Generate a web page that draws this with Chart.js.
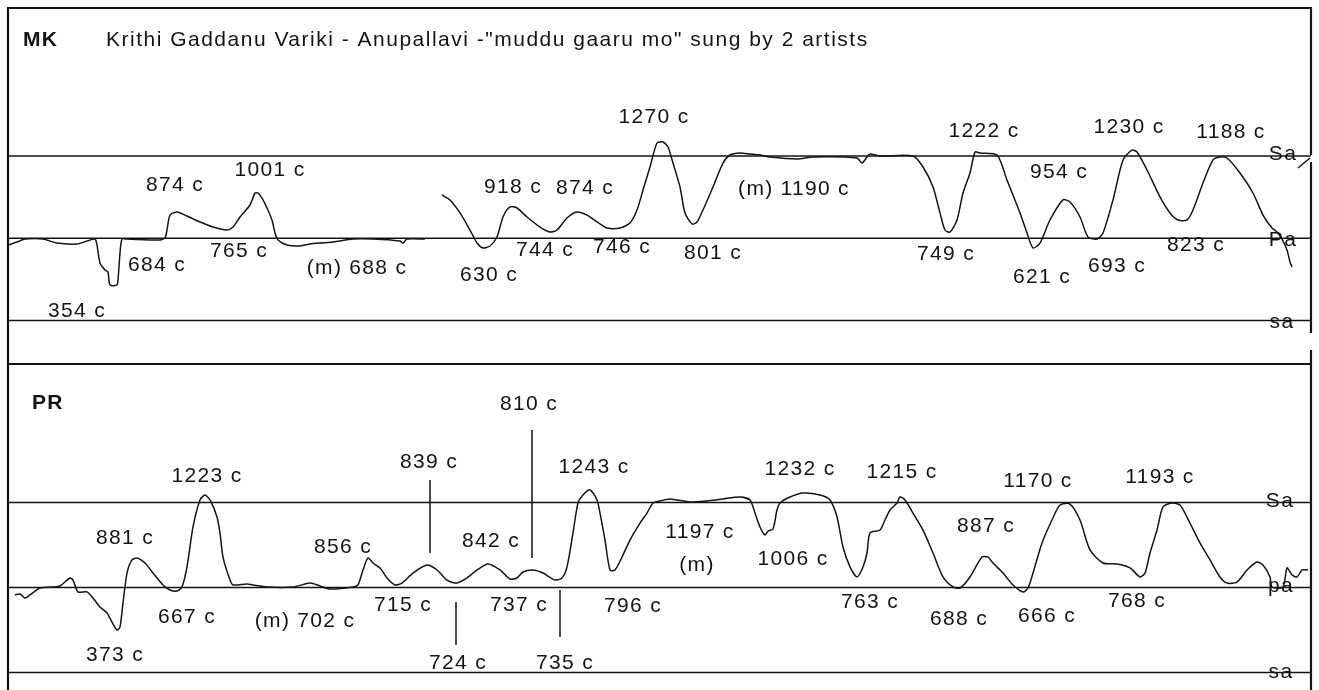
<!DOCTYPE html>
<html><head><meta charset="utf-8">
<script src="https://cdn.jsdelivr.net/npm/chart.js@4.4.1/dist/chart.umd.min.js"></script>
<style>
html,body{margin:0;padding:0;background:#fff;width:1319px;height:690px;overflow:hidden}
canvas{position:absolute;left:0}
#mk{top:0}
#pr{top:345px}
</style></head><body>
<canvas id="mk" width="1319" height="345"></canvas>
<canvas id="pr" width="1319" height="345"></canvas>
<script>
// ---------- DATA ----------
// pitch = frequency ratio to the tonic (sa = 1, Pa = 1.5, Sa = 2); time in frames
const titleText = 'Krithi Gaddanu Variki - Anupallavi -"muddu gaaru mo" sung by 2 artists';
const panelNames = ['MK', 'PR'];
const mkSwaras = [['sa', 1], ['Pa', 1.5], ['Sa', 2]];
const prSwaras = [['sa', 1], ['pa', 1.5], ['Sa', 2]];

const mkContour = [
 [0,1.459],[9,1.477],[17,1.495],[35,1.495],[49,1.471],[69,1.465],[79,1.483],[87,1.495],[89,1.459],[92,1.350],
 [97,1.307],[100,1.295],[102,1.216],[109,1.216],[110,1.246],[112,1.410],[114,1.495],[119,1.495],[152,1.489],[157,1.502],
 [159,1.550],[162,1.641],[169,1.660],[179,1.635],[192,1.599],[205,1.568],[219,1.550],[225,1.568],[232,1.629],[242,1.702],
 [247,1.775],[250,1.775],[255,1.733],[259,1.684],[264,1.611],[267,1.532],[270,1.489],[279,1.459],[292,1.453],[302,1.465],
 [312,1.471],[325,1.477],[345,1.495],[365,1.495],[392,1.483],[395,1.471],[399,1.495],[417,1.495],[425,null],
 [434,1.763],[442,1.733],[452,1.654],[462,1.550],[469,1.471],[475,1.441],[482,1.453],[489,1.508],[495,1.629],[502,1.690],
 [509,1.684],[519,1.629],[532,1.568],[542,1.538],[549,1.550],[559,1.623],[569,1.660],[579,1.641],[589,1.599],[599,1.562],
 [612,1.562],[622,1.593],[629,1.672],[635,1.793],[642,1.933],[649,2.079],[655,2.085],[660,2.055],[665,1.957],[672,1.812],
 [677,1.654],[684,1.587],[689,1.599],[695,1.672],[705,1.812],[715,1.957],[722,2.006],[732,2.018],[742,2.012],[752,2.006],
 [762,1.994],[789,1.982],[805,1.994],[849,1.988],[854,1.957],[859,1.994],[862,2.012],[872,2.000],[905,2.000],[915,1.933],
 [925,1.812],[932,1.654],[937,1.550],[942,1.538],[949,1.611],[955,1.775],[962,1.897],[967,2.024],[972,2.018],[989,2.006],
 [999,1.854],[1012,1.654],[1019,1.532],[1025,1.441],[1032,1.471],[1042,1.611],[1055,1.733],[1062,1.720],[1072,1.629],[1080,1.508],
 [1089,1.495],[1095,1.532],[1105,1.733],[1115,1.976],[1124,2.036],[1129,2.024],[1139,1.915],[1152,1.751],[1162,1.654],[1170,1.611],
 [1179,1.611],[1185,1.672],[1195,1.836],[1205,1.976],[1212,1.994],[1219,1.988],[1232,1.897],[1245,1.775],[1255,1.641],[1264,1.562],
 [1269,1.538],[1274,1.495],[1279,1.429],[1282,1.356],[1284,1.325],[1287,null],[1290,1.927],[1302,1.988]
];

const prContour = [
 [7,1.456],[12,1.462],[17,1.438],[22,1.456],[32,1.497],[45,1.503],[52,1.509],[62,1.556],[65,1.544],[70,1.474],
 [79,1.474],[85,1.438],[92,1.385],[99,1.350],[104,1.297],[109,1.250],[112,1.268],[115,1.409],[119,1.585],[124,1.662],
 [129,1.674],[137,1.644],[145,1.585],[155,1.515],[162,1.485],[169,1.479],[174,1.503],[179,1.621],[185,1.856],[192,2.015],
 [197,2.044],[202,2.015],[209,1.915],[212,1.821],[215,1.679],[222,1.544],[225,1.515],[239,1.521],[245,1.515],[259,1.503],
 [285,1.503],[302,1.526],[312,1.509],[322,1.491],[345,1.503],[350,1.515],[355,1.603],[360,1.674],[365,1.644],[372,1.615],
 [379,1.556],[387,1.515],[394,1.526],[405,1.585],[419,1.632],[429,1.603],[439,1.544],[449,1.526],[459,1.556],[469,1.603],
 [480,1.638],[492,1.603],[502,1.550],[509,1.556],[515,1.591],[525,1.603],[535,1.585],[547,1.544],[554,1.556],[559,1.621],
 [565,1.821],[570,1.997],[575,2.044],[582,2.074],[589,2.015],[592,1.938],[597,1.779],[602,1.603],[607,1.603],[614,1.679],
 [622,1.779],[632,1.879],[639,1.938],[645,1.997],[652,2.009],[662,2.021],[682,2.003],[699,2.009],[715,2.021],[732,2.032],
 [742,2.015],[747,1.938],[752,1.856],[757,1.809],[760,1.832],[765,1.844],[769,1.956],[772,1.997],[782,2.032],[795,2.056],
 [812,2.044],[822,2.015],[829,1.915],[835,1.738],[842,1.621],[849,1.562],[855,1.621],[859,1.703],[862,1.821],[872,1.838],
 [877,1.897],[882,1.956],[889,1.997],[892,2.032],[897,2.015],[905,1.938],[915,1.838],[925,1.703],[935,1.562],[945,1.503],
 [952,1.497],[962,1.562],[974,1.679],[980,1.679],[985,1.644],[995,1.585],[1005,1.515],[1015,1.474],[1020,1.497],[1025,1.585],
 [1034,1.762],[1044,1.897],[1052,1.985],[1062,1.991],[1072,1.897],[1082,1.721],[1095,1.644],[1109,1.638],[1122,1.615],[1132,1.562],
 [1137,1.585],[1142,1.703],[1149,1.838],[1155,1.974],[1164,1.997],[1172,1.985],[1182,1.879],[1192,1.762],[1202,1.662],[1212,1.562],
 [1219,1.526],[1229,1.532],[1239,1.603],[1249,1.650],[1255,1.632],[1262,1.562],[1264,1.503],[1275,1.503],[1279,1.615],[1284,1.574],
 [1289,1.562],[1294,1.603],[1300,1.603]
];

// annotations: [text, time, ratio]
const mkLabels = [
 ['874 c',167,1.824],['1001 c',262,1.915],['684 c',149,1.337],['765 c',231,1.422],['(m) 688 c',349,1.319],
 ['354 c',69,1.058],['1270 c',646,2.237],['918 c',505,1.812],['874 c',577,1.805],['(m) 1190 c',786,1.799],
 ['744 c',537,1.429],['746 c',614,1.447],['801 c',705,1.410],['630 c',481,1.277],['1222 c',976,2.152],
 ['1230 c',1121,2.176],['1188 c',1223,2.146],['954 c',1051,1.903],['749 c',938,1.404],['621 c',1034,1.264],
 ['693 c',1109,1.331],['823 c',1188,1.459]
];
const prLabels = [
 ['1223 c',199,2.156],['881 c',117,1.791],['856 c',335,1.738],['839 c',421,2.238],['667 c',179,1.326],
 ['373 c',107,1.103],['(m) 702 c',297,1.303],['715 c',395,1.397],['810 c',521,2.579],['842 c',483,1.774],
 ['1243 c',586,2.209],['737 c',511,1.397],['724 c',450,1.056],['735 c',557,1.056],['796 c',625,1.391],
 ['1197 c',692,1.826],['(m)',689,1.632],['1232 c',792,2.197],['1006 c',785,1.668],['763 c',862,1.415],
 ['1215 c',894,2.179],['887 c',978,1.862],['688 c',951,1.315],['1170 c',1030,2.126],['666 c',1039,1.332],
 ['1193 c',1152,2.150],['768 c',1129,1.421]
];
// swara name positions at the right end: [text, time, ratio]
const mkSwaraLabels = [['Sa',1275,2.012],['Pa',1275,1.486],['sa',1274,0.992]];
const prSwaraLabels = [['Sa',1272,2.009],['pa',1273,1.507],['sa',1273,1.001]];
// leader marks (PR): [time, ratioFrom, ratioTo]
const prLeaders = [[422,2.132,1.703],[524,2.426,1.674],[448,1.415,1.162],[552,1.485,1.209]];

// ---------- RENDER ----------
const INK = '#141414';
const FONT = '"Liberation Sans", Arial, sans-serif';

function frameAndText(cfg) {
  return {
    id: 'frameText',
    afterDraw(chart) {
      const ctx = chart.ctx, xs = chart.scales.x, ys = chart.scales.y;
      ctx.save();
      ctx.strokeStyle = INK; ctx.lineWidth = 2.2; ctx.lineCap = 'butt';
      for (const s of cfg.frame) { ctx.beginPath(); ctx.moveTo(s[0], s[1]); ctx.lineTo(s[2], s[3]); ctx.stroke(); }
      ctx.fillStyle = INK;
      ctx.textBaseline = 'middle';
      ctx.letterSpacing = '1.2px';
      ctx.font = 'bold 21px ' + FONT; ctx.textAlign = 'left';
      ctx.fillText(cfg.name, cfg.namePos[0], cfg.namePos[1]);
      if (cfg.title) {
        ctx.letterSpacing = '1.5px';
        ctx.font = '21px ' + FONT;
        ctx.fillText(cfg.title, cfg.titlePos[0], cfg.titlePos[1]);
      }
      ctx.letterSpacing = '1.3px';
      ctx.font = '21px ' + FONT; ctx.textAlign = 'center';
      for (const l of cfg.labels.concat(cfg.swaraLabels)) {
        ctx.fillText(l[0], xs.getPixelForValue(l[1]), ys.getPixelForValue(l[2]));
      }
      ctx.restore();
    }
  };
}

function makePanel(id, cfg) {
  const datasets = [];
  for (const s of cfg.swaras) {
    datasets.push({ data: [{x: 0, y: s[1]}, {x: 1303, y: s[1]}], borderColor: INK, borderWidth: 1.7, pointRadius: 0 });
  }
  for (const l of (cfg.leaders || [])) {
    datasets.push({ data: [{x: l[0], y: l[1]}, {x: l[0], y: l[2]}], borderColor: INK, borderWidth: 1.5, pointRadius: 0 });
  }
  datasets.push({ data: cfg.contour.map(p => ({x: p[0], y: p[1]})), borderColor: INK, borderWidth: 1.5,
    pointRadius: 0, tension: 0.25, spanGaps: false });
  return new Chart(document.getElementById(id), {
    type: 'line',
    data: { datasets },
    options: {
      responsive: false, devicePixelRatio: 1, animation: false, events: [],
      layout: { padding: cfg.padding },
      scales: {
        x: { type: 'linear', display: false, min: 0, max: 1303 },
        y: { type: 'linear', display: false, min: cfg.yMin, max: cfg.yMax }
      },
      plugins: { legend: { display: false }, tooltip: { enabled: false } }
    },
    plugins: [frameAndText(cfg)]
  });
}

// MK panel: sa at y=320.5, Sa at y=156 inside a 345px canvas, plot area top 8
makePanel('mk', {
  padding: {left: 8, right: 8, top: 8, bottom: 0},
  yMax: 1 + (320.5 - 8) / 164.5, yMin: 1 - (345 - 320.5) / 164.5,
  swaras: mkSwaras, contour: mkContour, labels: mkLabels, swaraLabels: mkSwaraLabels,
  name: panelNames[0], namePos: [23, 40], title: titleText, titlePos: [106, 40],
  frame: [[7, 8, 1312, 8], [8, 8, 8, 345], [1311, 8, 1311, 155], [1311, 162, 1311, 333]]
});
// PR panel: sa at y=327.5, Sa at y=157.5 inside its canvas
makePanel('pr', {
  padding: {left: 8, right: 8, top: 0, bottom: 0},
  yMax: 1 + 327.5 / 170, yMin: 1 - 17.5 / 170,
  swaras: prSwaras, contour: prContour, labels: prLabels, swaraLabels: prSwaraLabels, leaders: prLeaders,
  name: panelNames[1], namePos: [32, 58.5],
  frame: [[8, 0, 8, 345], [8, 19, 1312, 19], [1311, 5, 1311, 345]]
});
</script></body></html>
